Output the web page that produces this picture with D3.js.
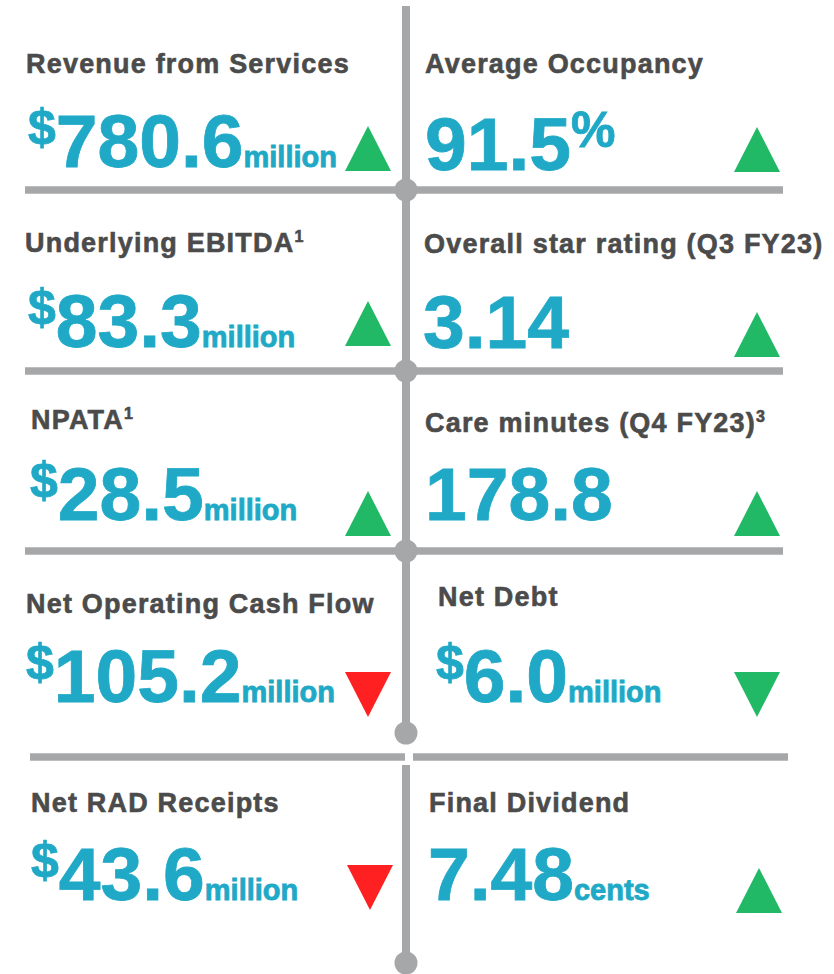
<!DOCTYPE html>
<html>
<head>
<meta charset="utf-8">
<script src="https://cdn.jsdelivr.net/npm/d3@7"></script>
<style>
  html, body { margin: 0; padding: 0; background: #ffffff; }
  svg { display: block; }
  text { font-family: "Liberation Sans", Arial, Helvetica, sans-serif; font-weight: bold; }
</style>
</head>
<body>
<svg id="chart" width="834" height="974"></svg>
<script>
// ---- DATA ----
const titles = ["Revenue from Services", "Average Occupancy", "Underlying EBITDA", "Overall star rating (Q3 FY23)",
  "NPATA", "Care minutes (Q4 FY23)", "Net Operating Cash Flow", "Net Debt", "Net RAD Receipts", "Final Dividend"];
const titleNotes = ["", "", "1", "", "1", "3", "", "", "", ""];
const prefixes = ["$", "", "$", "", "$", "", "$", "$", "$", ""];
const values = ["780.6", "91.5", "83.3", "3.14", "28.5", "178.8", "105.2", "6.0", "43.6", "7.48"];
const suffixes = ["", "%", "", "", "", "", "", "", "", ""];
const units = ["million", "", "million", "", "million", "", "million", "million", "million", "cents"];
const trends = ["up", "up", "up", "up", "up", "up", "down", "down", "down", "up"];
const outcomes = ["good", "good", "good", "good", "good", "good", "bad", "good", "bad", "good"];

// ---- LAYOUT (positions, not data) ----
const W = 834, H = 974;
const rowIndex = d3.range(5);
const titleBase = [73, 73, 252, 253, 429, 432, 613, 606, 812, 812];
const valueBase = [167, 170, 347, 348, 520, 520, 702, 702, 900, 900];
const titleX = [26, 425, 25, 424, 31, 425, 26, 438, 31, 429];
const valueX = [28, 425, 28, 423, 30, 425, 26, 436, 31, 428];
const triTop = [126, 127, 301, 312, 491, 491, 672, 672, 865, 868];
const triLeft = [345, 734, 345, 734, 345, 734, 345, 734, 347, 736];

const colors = {
  line: "#a6a7a9",
  title: "#4b4b4b",
  value: "#20a9c6",
  good: "#22b966",
  bad: "#ff2121"
};

const svg = d3.select("#chart");

const yLine = d3.scaleOrdinal().domain(rowIndex).range([190, 371, 551, 757, 963]);
const xSpine = 406;

// ---- GRID LINES ----
const g = svg.append("g");
g.append("line").attr("x1", xSpine).attr("x2", xSpine).attr("y1", 6).attr("y2", yLine(3) - 24)
  .attr("stroke", colors.line).attr("stroke-width", 8);
g.append("line").attr("x1", xSpine).attr("x2", xSpine).attr("y1", 765).attr("y2", yLine(4))
  .attr("stroke", colors.line).attr("stroke-width", 8);
[0, 1, 2].forEach(r => {
  g.append("line").attr("x1", 25).attr("x2", 783).attr("y1", yLine(r)).attr("y2", yLine(r))
    .attr("stroke", colors.line).attr("stroke-width", 7.5);
});
g.append("line").attr("x1", 30).attr("x2", 405).attr("y1", yLine(3)).attr("y2", yLine(3))
  .attr("stroke", colors.line).attr("stroke-width", 7.5);
g.append("line").attr("x1", 413).attr("x2", 788).attr("y1", yLine(3)).attr("y2", yLine(3))
  .attr("stroke", colors.line).attr("stroke-width", 7.5);
const dotY = [190, 371, 551, 733, 963];
g.selectAll("circle.dot").data(dotY).join("circle")
  .attr("class", "dot").attr("cx", xSpine).attr("cy", d => d).attr("r", 11.5)
  .attr("fill", colors.line);

// ---- CELLS ----
const cells = titles.map((t, i) => ({ i, title: t }));
const cg = svg.selectAll("g.cell").data(cells).join("g").attr("class", "cell");

const tt = cg.append("text")
  .attr("x", d => titleX[d.i]).attr("y", d => titleBase[d.i])
  .attr("fill", colors.title)
  .attr("stroke", colors.title).attr("stroke-width", 0.6)
  .style("font-size", "27px")
  .style("letter-spacing", "1.2px");
tt.append("tspan").text(d => d.title);
tt.append("tspan").text(d => titleNotes[d.i])
  .style("font-size", "16px").attr("dy", -10).style("letter-spacing", "0px");

const vt = cg.append("text")
  .attr("x", d => valueX[d.i]).attr("y", d => valueBase[d.i])
  .attr("fill", colors.value)
  .attr("stroke", colors.value).attr("stroke-width", 0.8);
vt.append("tspan").text(d => prefixes[d.i])
  .style("font-size", "50px").attr("dy", d => prefixes[d.i] ? -23 : 0);
vt.append("tspan").text(d => values[d.i])
  .style("font-size", "75px").attr("dy", d => prefixes[d.i] ? 23 : 0);
vt.append("tspan").text(d => suffixes[d.i])
  .style("font-size", "50px").attr("dy", d => suffixes[d.i] ? -23 : 0);
vt.append("tspan").text(d => units[d.i])
  .style("font-size", "29px").attr("dy", d => suffixes[d.i] ? 23 : 0);

const triW = 46, triH = 45;
const triLine = d3.line();
cg.append("path")
  .attr("d", d => {
    const x0 = triLeft[d.i], y0 = triTop[d.i];
    const pts = trends[d.i] === "up"
      ? [[x0, y0 + triH], [x0 + triW / 2, y0], [x0 + triW, y0 + triH]]
      : [[x0, y0], [x0 + triW, y0], [x0 + triW / 2, y0 + triH]];
    return triLine(pts) + "Z";
  })
  .attr("fill", d => colors[outcomes[d.i]]);
</script>
</body>
</html>
